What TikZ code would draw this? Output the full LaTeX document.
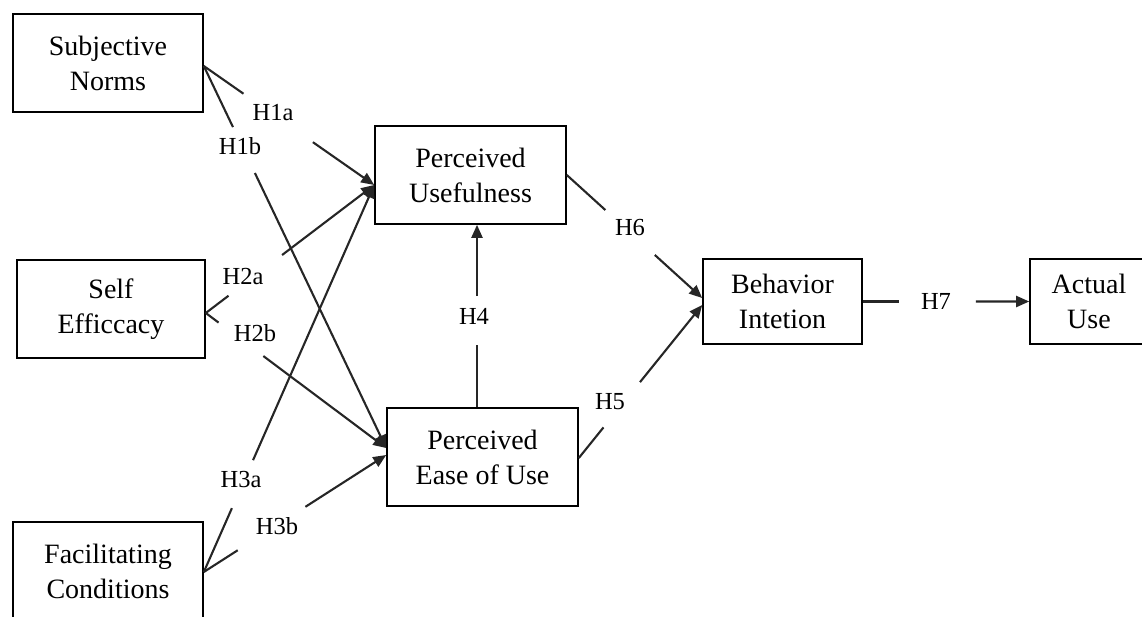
\documentclass[tikz,border=0pt]{standalone}
\usepackage{fontspec}
\setmainfont{Liberation Serif}
\usetikzlibrary{arrows.meta,calc}
\tikzset{
  box/.style={draw=black,line width=1.6pt,fill=white,align=center,inner sep=0pt,
    font=\fontsize{28}{35}\selectfont},
  hlabel/.style={inner sep=0pt,font=\fontsize{24.5}{30}\selectfont},
  conn/.style={draw=black!85,line width=2.1pt},
  tip/.style={-{Triangle[length=13pt,width=11pt]}}
}
\newcommand\gapline[4]{%
  \draw[conn] (#1) -- ($(#1)!#3!(#2)$);
  \draw[conn,tip] ($(#1)!#4!(#2)$) -- (#2);}
\begin{document}
\begin{tikzpicture}[x=1pt,y=-1pt]
\useasboundingbox (0,0) rectangle (1142,616);
\clip (0,0) rectangle (1142,616);
% boxes
\node[box,minimum width=190pt,minimum height=98pt] (sn) at (108,63) {Subjective\\Norms};
\node[box,minimum width=188pt,minimum height=98pt] (se) at (111,309) {Self\\Efficcacy};
\node[box,minimum width=190pt,minimum height=98pt] (fc) at (108,571) {Facilitating\\Conditions};
\node[box,minimum width=191pt,minimum height=98pt] (pu) at (470.5,175) {Perceived\\Usefulness};
\node[box,minimum width=191pt,minimum height=98pt] (pe) at (482.5,457) {Perceived\\Ease of Use};
\node[box,minimum width=159pt,minimum height=85pt] (bi) at (782.5,301.5) {Behavior\\Intetion};
\node[box,minimum width=118pt,minimum height=85pt] (au) at (1089,301.5) {Actual\\Use};
% connector end points on the boxes
\coordinate (snO) at ([yshift=-3pt]sn.east);
\coordinate (seO) at ([yshift=-4pt]se.east);
\coordinate (fcO) at ([yshift=-1pt]fc.east);
\coordinate (puI) at ([yshift=-10pt]pu.west);
\coordinate (peI1) at ([yshift=9pt]pe.west);
\coordinate (peI2) at ([yshift=2pt]pe.west);
\coordinate (peT) at ([xshift=-5.5pt]pe.north);
\coordinate (puB) at ([xshift=6.5pt]pu.south);
\coordinate (peR) at ([yshift=-1pt]pe.east);
\coordinate (puR) at (pu.east);
\coordinate (biI1) at ([yshift=3.5pt]bi.west);
\coordinate (biI2) at ([yshift=-3.5pt]bi.west);
% connectors
\gapline{snO}{puI}{0.233}{0.64}
\gapline{snO}{peI1}{0.16}{0.28}
\gapline{seO}{puI}{0.135}{0.453}
\gapline{seO}{peI1}{0.071}{0.319}
\gapline{fcO}{puI}{0.165}{0.289}
\gapline{fcO}{peI2}{0.186}{0.557}
\gapline{peT}{puB}{0.342}{0.609}
\gapline{peR}{biI2}{0.2}{0.496}
\gapline{puR}{biI1}{0.285}{0.65}
\gapline{bi.east}{au.west}{0.22}{0.679}
% labels
\node[hlabel] (l1a) at (273,113) {H1a};
\node[hlabel] (l1b) at (240,146) {H1b};
\node[hlabel] (l2a) at (243,277) {H2a};
\node[hlabel] (l2b) at (255,333) {H2b};
\node[hlabel] (l3a) at (241,480) {H3a};
\node[hlabel] (l3b) at (277,526) {H3b};
\node[hlabel] (l4) at (474,316) {H4};
\node[hlabel] (l5) at (610,402) {H5};
\node[hlabel] (l6) at (630,228) {H6};
\node[hlabel] (l7) at (936,301) {H7};
\end{tikzpicture}
\end{document}
